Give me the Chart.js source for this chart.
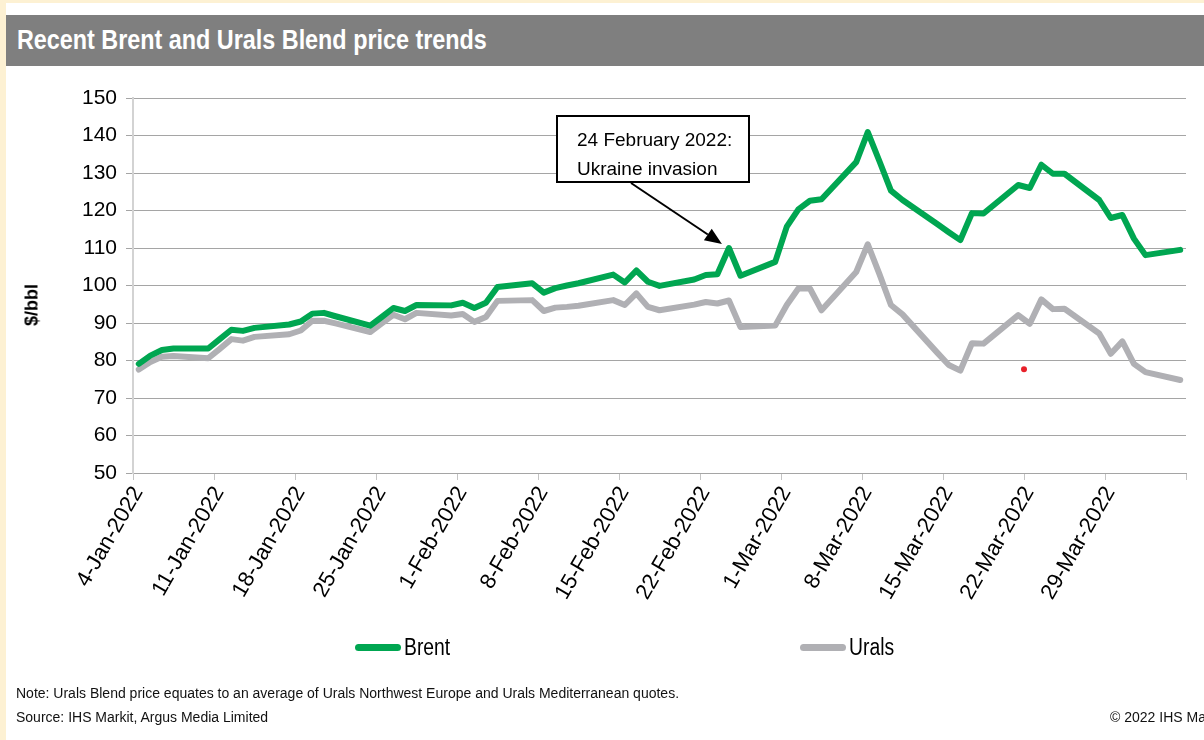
<!DOCTYPE html>
<html>
<head>
<meta charset="utf-8">
<title>Brent and Urals</title>
<script src="https://cdn.jsdelivr.net/npm/chart.js@4.4.1/dist/chart.umd.min.js"></script>
<style>
  html, body { margin: 0; padding: 0; }
  body {
    width: 1204px; height: 740px; position: relative; overflow: hidden; background: #fff;
    font-family: "Liberation Sans", Arial, sans-serif;
  }
  .edge-top { position: absolute; left: 0; top: 0; width: 1204px; height: 3px; background: #fdf1d3; }
  .edge-left { position: absolute; left: 0; top: 0; width: 6px; height: 740px; background: #fdf1d3; }
  .banner { position: absolute; left: 6px; top: 15px; width: 1198px; height: 51px; background: #7f7f7f; }
  .banner span {
    position: absolute; left: 11px; top: 10px; color: #fff; font-weight: bold; font-size: 27px;
    white-space: nowrap; transform: scaleX(0.865); transform-origin: 0 0;
  }
  #priceChart { position: absolute; left: 0; top: 0; }
  .ytitle {
    position: absolute; left: 32px; top: 305px; font-weight: bold; font-size: 18px; color: #000;
    white-space: nowrap; transform: translate(-50%, -50%) rotate(-90deg);
  }
  .legend-item { position: absolute; top: 634px; height: 26px; font-size: 23px; line-height: 26px; color: #000; }
  .legend-item i { position: absolute; left: 0; top: 10px; width: 46px; height: 7px; border-radius: 3.5px; }
  .legend-item b {
    position: absolute; left: 49px; top: 0; font-weight: normal; white-space: nowrap;
    transform: scaleX(0.84); transform-origin: 0 0;
  }
  .foot { position: absolute; font-size: 14px; color: #111; white-space: nowrap; }
</style>
</head>
<body>
<div class="edge-top"></div>
<div class="edge-left"></div>
<div class="banner"><span>Recent Brent and Urals Blend price trends</span></div>
<canvas id="priceChart" width="1204" height="740"></canvas>
<div class="ytitle">$/bbl</div>
<div id="legend"></div>
<div class="foot" style="left:16px; top:685px;">Note: Urals Blend price equates to an average of Urals Northwest Europe and Urals Mediterranean quotes.</div>
<div class="foot" style="left:16px; top:709px;">Source: IHS Markit, Argus Media Limited</div>
<div class="foot" style="left:1110px; top:709px;">© 2022 IHS Markit</div>

<script>
// trading days
const dates = [
  '2022-01-04','2022-01-05','2022-01-06','2022-01-07','2022-01-10','2022-01-11','2022-01-12','2022-01-13','2022-01-14',
  '2022-01-17','2022-01-18','2022-01-19','2022-01-20','2022-01-21','2022-01-24','2022-01-25','2022-01-26','2022-01-27',
  '2022-01-28','2022-01-31','2022-02-01','2022-02-02','2022-02-03','2022-02-04','2022-02-07','2022-02-08','2022-02-09',
  '2022-02-10','2022-02-11','2022-02-14','2022-02-15','2022-02-16','2022-02-17','2022-02-18','2022-02-21','2022-02-22',
  '2022-02-23','2022-02-24','2022-02-25','2022-02-28','2022-03-01','2022-03-02','2022-03-03','2022-03-04','2022-03-07',
  '2022-03-08','2022-03-09','2022-03-10','2022-03-11','2022-03-14','2022-03-15','2022-03-16','2022-03-17','2022-03-18',
  '2022-03-21','2022-03-22','2022-03-23','2022-03-24','2022-03-25','2022-03-28','2022-03-29','2022-03-30','2022-03-31',
  '2022-04-01','2022-04-04'
];

// $/bbl
const brent = [
  79.1, 81.3, 82.8, 83.2, 83.2, 85.7, 88.2, 87.9, 88.7, 89.6, 90.4, 92.5, 92.7, 91.8, 89.3, 91.6, 94.0, 93.2, 94.8, 94.7,
  95.4, 94.0, 95.4, 99.6, 100.6, 98.1, 99.3, 100.0, 100.6, 102.9, 100.8, 104.0, 101.0, 99.9, 101.6, 102.8, 103.0, 110.0, 102.6, 106.3,
  115.7, 120.3, 122.6, 123.0, 132.9, 140.9, 133.2, 125.3, 122.8, 116.4, 114.2, 112.1, 119.3, 119.2, 126.8, 126.0, 132.2, 129.8, 129.8,
  122.8, 118.0, 118.8, 112.5, 108.1, 109.5
];
const urals = [
  77.6, 79.6, 81.0, 81.2, 80.6, 83.1, 85.7, 85.3, 86.3, 87.0, 88.0, 90.6, 90.6, 89.9, 87.6, 89.9, 92.2, 91.0, 92.7, 92.0,
  92.4, 90.3, 91.6, 95.9, 96.1, 93.2, 94.1, 94.3, 94.6, 96.1, 94.8, 97.9, 94.3, 93.4, 94.9, 95.6, 95.2, 96.0, 88.9, 89.3,
  94.8, 99.2, 99.2, 93.4, 103.6, 111.0, 103.1, 94.8, 92.3, 82.1, 78.8, 77.3, 84.6, 84.5, 92.1, 89.8, 96.3, 93.7, 93.8,
  87.2, 81.8, 85.1, 79.1, 76.9, 74.8
];

const tickLabels = [
  '4-Jan-2022','11-Jan-2022','18-Jan-2022','25-Jan-2022','1-Feb-2022','8-Feb-2022','15-Feb-2022',
  '22-Feb-2022','1-Mar-2022','8-Mar-2022','15-Mar-2022','22-Mar-2022','29-Mar-2022'
];
const startDate = '2022-01-04';
const endDate = '2022-04-05';

const calloutDate = '2022-02-24';
const calloutLines = ['24 February 2022:', 'Ukraine invasion'];
const strayDot = { date: '2022-03-22', value: 77.7 };

const sans = '"Liberation Sans", Arial, sans-serif';

function dayNo(d) {
  return (Date.parse(d) - Date.parse(startDate)) / 86400000;
}
// points sit in the middle of their day
function toPoints(values) {
  return values.map((v, i) => ({ x: dayNo(dates[i]) + 0.5, y: v }));
}

const calloutPlugin = {
  id: 'callout',
  afterDatasetsDraw(chart) {
    const { ctx, scales } = chart;
    const i = dates.indexOf(calloutDate);
    const px = scales.x.getPixelForValue(dayNo(calloutDate) + 0.5);
    const py = scales.y.getPixelForValue(brent[i]);
    ctx.save();
    // text box
    ctx.fillStyle = '#fff';
    ctx.strokeStyle = '#000';
    ctx.lineWidth = 2;
    ctx.fillRect(557, 116, 192, 66);
    ctx.strokeRect(557, 116, 192, 66);
    ctx.fillStyle = '#000';
    ctx.font = '19px ' + sans;
    ctx.textBaseline = 'alphabetic';
    ctx.fillText(calloutLines[0], 577, 146);
    ctx.fillText(calloutLines[1], 577, 175);
    // arrow down to the spike
    const sx = 631, sy = 183;
    const tx = px - 7, ty = py - 4;
    const ang = Math.atan2(ty - sy, tx - sx);
    const head = 17, half = 7;
    const bx = tx - head * Math.cos(ang), by = ty - head * Math.sin(ang);
    ctx.beginPath();
    ctx.moveTo(sx, sy);
    ctx.lineTo(bx, by);
    ctx.lineWidth = 2;
    ctx.stroke();
    ctx.beginPath();
    ctx.moveTo(tx, ty);
    ctx.lineTo(bx + half * Math.sin(ang), by - half * Math.cos(ang));
    ctx.lineTo(bx - half * Math.sin(ang), by + half * Math.cos(ang));
    ctx.closePath();
    ctx.fill();
    ctx.restore();
  }
};

const chart = new Chart(document.getElementById('priceChart'), {
  type: 'line',
  data: {
    datasets: [
      {
        label: 'Brent', data: toPoints(brent), borderColor: '#00a651', borderWidth: 6,
        pointRadius: 0, borderCapStyle: 'round', borderJoinStyle: 'round', tension: 0
      },
      {
        label: 'Urals', data: toPoints(urals), borderColor: '#b0b0b4', borderWidth: 6,
        pointRadius: 0, borderCapStyle: 'round', borderJoinStyle: 'round', tension: 0
      },
      {
        type: 'scatter', label: '', data: [{ x: dayNo(strayDot.date), y: strayDot.value }],
        pointRadius: 3, pointBackgroundColor: '#e8202a', pointBorderWidth: 0
      }
    ]
  },
  options: {
    responsive: false,
    animation: false,
    layout: { padding: { left: 0, top: 98, right: 18, bottom: 117 } },
    plugins: { legend: { display: false }, tooltip: { enabled: false } },
    scales: {
      x: {
        type: 'linear',
        min: 0,
        max: dayNo(endDate),
        afterFit: s => { s.height = 150; s.paddingLeft = 0; s.paddingRight = 0; },
        grid: { drawOnChartArea: false, color: '#c4c4c4', tickLength: 7 },
        border: { color: '#a5a5a5', width: 1 },
        ticks: {
          stepSize: 7, autoSkip: false, minRotation: 60, maxRotation: 60, padding: 2, labelOffset: 5,
          color: '#000', font: { family: sans, size: 22 },
          callback: v => tickLabels[v / 7] || ''
        }
      },
      y: {
        min: 50,
        max: 150,
        afterFit: s => { s.width = 133; },
        grid: { color: '#a5a5a5', tickLength: 7 },
        border: { color: '#d3d3d3', width: 2 },
        ticks: {
          stepSize: 10, padding: 9, color: '#000',
          font: { family: sans, size: 21 }
        }
      }
    }
  },
  plugins: [calloutPlugin]
});

// legend drawn from the two price series
const legendPos = [355, 800];
chart.data.datasets.slice(0, 2).forEach((ds, i) => {
  const item = document.createElement('div');
  item.className = 'legend-item';
  item.style.left = legendPos[i] + 'px';
  item.innerHTML = '<i style="background:' + ds.borderColor + '"></i><b>' + ds.label + '</b>';
  document.getElementById('legend').appendChild(item);
});
</script>
</body>
</html>
